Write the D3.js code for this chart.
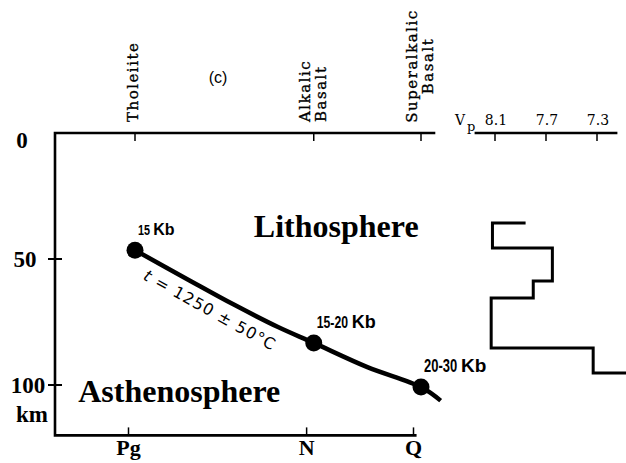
<!DOCTYPE html>
<html>
<head>
<meta charset="utf-8">
<script src="https://cdn.jsdelivr.net/npm/d3@7"></script>
<style>
body{margin:0;background:#fff;}
text{fill:#000;}
</style>
</head>
<body>
<div id="chart"></div>
<script>
// age stages along bottom, magma types along top
const stages=["Pg","N","Q"];
const stagePos=[0,1,1.6];
const magmaTypes=[["Tholeiite"],["Alkalic","Basalt"],["Superalkalic","Basalt"]];
const depthTicks=[0,50,100];

// melting points (stage, depth km) and pressure labels
const pointDepths=[46.5,83.3,100.8];
const pointLabels=[["15","Kb"],["15-20","Kb"],["20-30","Kb"]];

// melting curve
const curveStage=[0,0.3,0.55,0.8,1,1.3,1.6,1.71];
const curveDepth=[46.5,58.3,68,77,83.3,92.9,100.8,106.2];

// Vp profile (corner points)
const vpTicks=[8.1,7.7,7.3];
const vpValues=[7.86,8.12,8.12,7.65,7.65,7.80,7.80,8.13,8.13,7.33,7.33,7.05];
const vpDepths=[35.7,35.7,45.6,45.6,58.7,58.7,65.5,65.5,85.3,85.3,95.2,95.2];

const w=626, h=463;
const boxLeft=55;

const svg=d3.select("#chart").append("svg").attr("width",w).attr("height",h);

const y=d3.scaleLinear().domain([0,100]).range([133,385]);
const xTop=d3.scaleLinear().domain([0,1.6]).range([135,421]);
const xBot=d3.scaleLinear().domain([0,1.6]).range([128,413]);
const vp=d3.scaleLinear().domain([8.1,7.3]).range([495,597]);

const boxBottom=y(120);

// frame
svg.append("path")
  .attr("d",`M${xTop(1.68)},${y(0)}H${boxLeft}V${boxBottom}H${xBot(1.62)}`)
  .attr("fill","none").attr("stroke","#000").attr("stroke-width",2.6);

// left ticks
svg.selectAll(".ltick").data(depthTicks.filter(d=>d>0)).enter().append("line")
  .attr("x1",boxLeft-7).attr("x2",boxLeft+7)
  .attr("y1",d=>y(d)).attr("y2",d=>y(d))
  .attr("stroke","#000").attr("stroke-width",2);

svg.selectAll(".llab").data(depthTicks).enter().append("text")
  .attr("x",(d,i)=>22+i*3)
  .attr("y",d=>Math.max(y(d),y(0)+7))
  .attr("dy","0.35em")
  .attr("text-anchor","middle")
  .style("font-family","'Liberation Serif',serif").style("font-weight","bold").style("font-size","23px")
  .text(d=>d);

svg.append("text").attr("x",32).attr("y",y(100)+37).attr("text-anchor","middle")
  .style("font-family","'Liberation Serif',serif").style("font-weight","bold").style("font-size","23px")
  .text("km");

// top ticks + magma type labels
svg.selectAll(".ttick").data(stagePos).enter().append("line")
  .attr("x1",d=>xTop(d)).attr("x2",d=>xTop(d))
  .attr("y1",y(0)).attr("y2",y(0)+8)
  .attr("stroke","#000").attr("stroke-width",1.5);

magmaTypes.forEach((lines,i)=>{
  const centred=i===2;
  lines.forEach((t,j)=>{
    const dx=lines.length===1?3:(j===0?-4:12);
    const px=xTop(stagePos[i])+dx;
    const py=centred?66:122;
    svg.append("text")
      .attr("transform",`translate(${px},${py}) rotate(-90)`)
      .attr("text-anchor",centred?"middle":"start")
      .style("font-family","'DejaVu Serif',serif").style("font-size","15px")
      .style("letter-spacing","1.5px")
      .attr("stroke","#000").attr("stroke-width",0.35)
      .text(t);
  });
});

svg.append("text").attr("x",218).attr("y",83).attr("text-anchor","middle")
  .style("font-family","'Liberation Sans',sans-serif").style("font-size","16px")
  .text("(c)");

// bottom axis
const bottomAxis=d3.axisBottom(xBot).tickValues(stagePos)
  .tickFormat((d,i)=>stages[i]).tickSizeInner(-8).tickSizeOuter(0).tickPadding(4);
const gb=svg.append("g").attr("transform",`translate(0,${boxBottom})`).call(bottomAxis);
gb.select(".domain").remove();
gb.selectAll(".tick line").attr("stroke-width",1.5);
gb.selectAll(".tick text")
  .style("font-family","'Liberation Serif',serif").style("font-weight","bold").style("font-size","22px")
  .attr("fill","#000");

// region names
svg.append("text").attr("x",xTop(0.665)).attr("y",y(41.3))
  .style("font-family","'Liberation Serif',serif").style("font-weight","bold").style("font-size","32px")
  .text("Lithosphere");
svg.append("text").attr("x",xTop(-0.318)).attr("y",y(106.7))
  .style("font-family","'Liberation Serif',serif").style("font-weight","bold").style("font-size","32px")
  .text("Asthenosphere");

// melting curve
const curve=curveStage.map((s,i)=>[s,curveDepth[i]]);
svg.append("path").datum(curve)
  .attr("d",d3.line().x(d=>xTop(d[0])).y(d=>y(d[1])).curve(d3.curveCatmullRom))
  .attr("fill","none").attr("stroke","#000").attr("stroke-width",4.5);

svg.selectAll(".dot").data(stagePos).enter().append("circle")
  .attr("cx",d=>xTop(d)).attr("cy",(d,i)=>y(pointDepths[i])).attr("r",8.5)
  .attr("fill","#000");

// pressure labels: condensed numbers + "Kb"
const sizes=[15,17,18];
stagePos.forEach((s,i)=>{
  const g=svg.append("g")
    .attr("transform",`translate(${xTop(s)+3},${y(pointDepths[i])-15})`);
  const num=g.append("text")
    .attr("transform","scale(0.72,1)")
    .style("font-family","'Liberation Sans',sans-serif").style("font-weight","bold")
    .style("font-size",sizes[i]+"px")
    .text(pointLabels[i][0]);
  const nw=num.node().getComputedTextLength()*0.72;
  g.append("text").attr("x",nw+sizes[i]*0.22)
    .style("font-family","'Liberation Sans',sans-serif").style("font-weight","bold")
    .style("font-size",(sizes[i]+1)+"px")
    .text(pointLabels[i][1]);
});

// temperature along curve
const tl=svg.append("text")
  .attr("transform",`translate(${xTop(0.04)},${y(57.9)}) rotate(29)`)
  .style("font-family","'DejaVu Sans',sans-serif").style("font-size","16px")
  .style("letter-spacing","1px");
tl.append("tspan").style("font-style","italic").text("t");
tl.append("tspan").text(" = 1250 \u00b1 50\u00b0C");

// Vp panel
svg.append("line")
  .attr("x1",vp(8.26)).attr("x2",vp(7.14)).attr("y1",y(0)).attr("y2",y(0))
  .attr("stroke","#000").attr("stroke-width",2.6);
svg.selectAll(".vtick").data(vpTicks).enter().append("line")
  .attr("x1",d=>vp(d)).attr("x2",d=>vp(d)).attr("y1",y(0)).attr("y2",y(0)+8)
  .attr("stroke","#000").attr("stroke-width",1.5);
svg.selectAll(".vlab").data(vpTicks).enter().append("text")
  .attr("x",d=>vp(d)+1).attr("y",y(0)-8).attr("text-anchor","middle")
  .style("font-family","'DejaVu Serif',serif").style("font-size","14px")
  .text(d=>d.toFixed(1));
svg.append("text").attr("x",455).attr("y",y(0)-8)
  .style("font-family","'DejaVu Serif',serif").style("font-size","14px")
  .text("V");
svg.append("text").attr("x",467).attr("y",y(0)-2)
  .style("font-family","'DejaVu Serif',serif").style("font-size","13px")
  .text("p");

const prof=vpValues.map((v,i)=>[v,vpDepths[i]]);
svg.append("path").datum(prof)
  .attr("d",d3.line().x(d=>vp(d[0])).y(d=>y(d[1])))
  .attr("fill","none").attr("stroke","#000").attr("stroke-width",3);
</script>
</body>
</html>
